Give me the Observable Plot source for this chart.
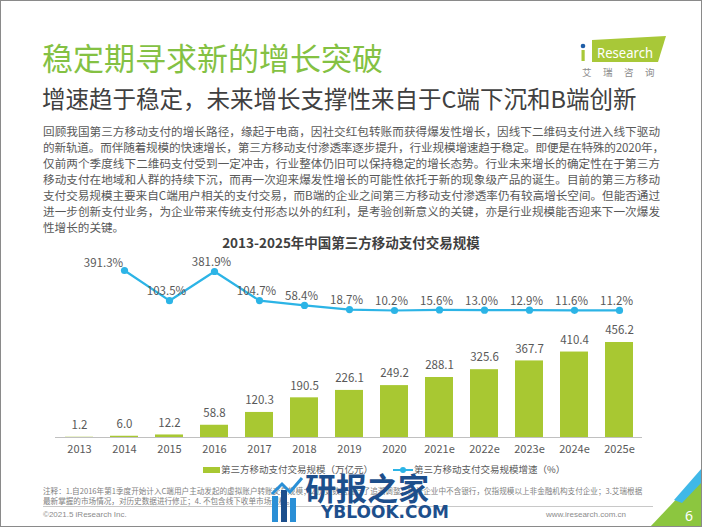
<!DOCTYPE html>
<html>
<head>
<meta charset="utf-8">
<script src="https://cdn.jsdelivr.net/npm/d3@7"></script>
<script src="https://cdn.jsdelivr.net/npm/@observablehq/plot@0.6"></script>
<style>
  html, body { margin: 0; padding: 0; background: #fff; }
  #slide { position: relative; width: 702px; height: 527px; overflow: hidden; background: #fff;
           font-family: "Noto Sans CJK SC", "Noto Sans", sans-serif; }
  .abs { position: absolute; white-space: nowrap; line-height: 1; }
  #frame { position: absolute; left: 0; top: 0; width: 700px; height: 525px; border: 1px solid #8a8a8a; pointer-events: none; }
  .body-line { position: absolute; left: 43px; font-size: 11.6px; color: #595959; line-height: 1; white-space: nowrap; }
  .plot { position: absolute; left: 0; top: 0; }
  .legend-text { position: absolute; font-size: 9.5px; color: #595959; line-height: 1; white-space: nowrap; }
</style>
</head>
<body>
<div id="slide">
  <div class="abs" style="left:42px; top:41px; font-size:31px; color:#84c143;">稳定期寻求新的增长突破</div>
  <div class="abs" style="left:42px; top:87px; font-size:23.5px; color:#404040;">增速趋于稳定，未来增长支撑性来自于C端下沉和B端创新</div>

  <svg class="abs" style="left:575px; top:32px;" width="100" height="50">
    <polygon points="17,8 91,4 83,30 17,30" fill="#a8c838"/>
    <circle cx="8" cy="14" r="2.3" fill="#1f5ea8"/>
    <rect x="6.5" y="18" width="3.2" height="11" fill="#a8c838"/>
    <text x="22" y="26" font-size="15" fill="#ffffff" font-family="'Noto Sans', sans-serif" textLength="56" lengthAdjust="spacingAndGlyphs">Research</text>
  </svg>
  <div class="abs" style="left:582px; top:68px; font-size:9.5px; color:#8c8c8c; letter-spacing:11.5px;">艾瑞咨询</div>

  <div id="body"></div>

  <div class="abs" style="left:0; width:702px; top:236px; text-align:center; font-size:13.5px; font-weight:bold; color:#404040;">2013-2025年中国第三方移动支付交易规模</div>

  <div id="bars" class="plot"></div>
  <div id="line" class="plot"></div>

  <div style="position:absolute; left:203px; top:467px; width:17px; height:6px; background:#a8c832;"></div>
  <div class="legend-text" style="left:221px; top:465px;">第三方移动支付交易规模（万亿元）</div>
  <svg style="position:absolute; left:392px; top:464px;" width="22" height="12">
    <line x1="1" y1="6" x2="21" y2="6" stroke="#2cb4e6" stroke-width="2"/>
    <circle cx="11" cy="6" r="3" fill="#2cb4e6"/>
  </svg>
  <div class="legend-text" style="left:414px; top:465px;">第三方移动支付交易规模增速（%）</div>

  <div class="abs" style="left:43px; top:487px; font-size:7.6px; color:#7f7f7f;">注释：1.自2016年第1季度开始计入C端用户主动发起的虚拟账户转账交易规模；2.历史数据进行了追溯调整，统计企业中不含银行，仅指规模以上非金融机构支付企业；3.艾瑞根据</div>
  <div class="abs" style="left:43px; top:497px; font-size:7.6px; color:#7f7f7f;">最新掌握的市场情况，对历史数据进行修正；4. 不包含线下收单市场规模。</div>
  <div style="position:absolute; left:43px; top:506px; width:610px; height:1px; background:#c8c8c8;"></div>
  <div class="abs" style="left:43px; top:511px; font-size:8px; color:#8c8c8c; font-family:'Liberation Sans', sans-serif;">©2021.5 iResearch Inc.</div>
  <div class="abs" style="left:540px; width:86px; text-align:right; top:511px; font-size:8px; color:#8c8c8c; font-family:'Liberation Sans', sans-serif;">www.iresearch.com.cn</div>

  <svg style="position:absolute; left:640px; top:460px;" width="62" height="67">
    <polygon points="10,67 62,67 62,12" fill="#8cc63f"/>
    <polygon points="34,40 62,8 62,22 42,43" fill="#3fb8e8"/>
    <text x="49" y="61" font-size="14" fill="#ffffff" font-family="'Noto Sans', sans-serif" text-anchor="middle">6</text>
  </svg>

  <!-- watermark -->
  <svg style="position:absolute; left:270px; top:476px;" width="40" height="48">
    <rect x="2" y="20" width="6" height="26" fill="#2a8fd6"/>
    <rect x="11" y="14" width="6" height="32" fill="#1d4f8c"/>
    <rect x="20" y="22" width="6" height="24" fill="#2a8fd6"/>
    <polyline points="2,18 12,8 20,16 32,2" fill="none" stroke="#2a8fd6" stroke-width="3"/>
  </svg>
  <div class="abs" style="left:305px; top:476px; font-size:31px; line-height:22px; font-weight:bold; color:#1d4f8c;">研报之家</div>
  <div class="abs" style="left:321px; top:505px; font-size:17px; line-height:14px; font-weight:bold; color:#1d4f8c; font-family:'DejaVu Sans', sans-serif;">YBLOOK.COM</div>

  <div id="frame"></div>
</div>

<script>
// ---- data ----
const years = ["2013","2014","2015","2016","2017","2018","2019","2020","2021e","2022e","2023e","2024e","2025e"];
const scaleValues = [1.2, 6.0, 12.2, 58.8, 120.3, 190.5, 226.1, 249.2, 288.1, 325.6, 367.7, 410.4, 456.2];
const growthYears = ["2014","2015","2016","2017","2018","2019","2020","2021e","2022e","2023e","2024e","2025e"];
const growthValues = [391.3, 103.5, 381.9, 104.7, 58.4, 18.7, 10.2, 15.6, 13.0, 12.9, 11.6, 11.2];
const bodyLines = [
  "回顾我国第三方移动支付的增长路径，缘起于电商，因社交红包转账而获得爆发性增长，因线下二维码支付进入线下驱动",
  "的新轨道。而伴随着规模的快速增长，第三方移动支付渗透率逐步提升，行业规模增速趋于稳定。即便是在特殊的2020年，",
  "仅前两个季度线下二维码支付受到一定冲击，行业整体仍旧可以保持稳定的增长态势。行业未来增长的确定性在于第三方",
  "移动支付在地域和人群的持续下沉，而再一次迎来爆发性增长的可能性依托于新的现象级产品的诞生。目前的第三方移动",
  "支付交易规模主要来自C端用户相关的支付交易，而B端的企业之间第三方移动支付渗透率仍有较高增长空间。但能否通过",
  "进一步创新支付业务，为企业带来传统支付形态以外的红利，是考验创新意义的关键，亦是行业规模能否迎来下一次爆发",
  "性增长的关键。"
];
const bodyWidths = [617, 621, 617, 617, 617, 617, 0];

// ---- body text (each line fitted to its width) ----
const bodyEl = document.getElementById("body");
bodyLines.forEach((t, i) => {
  const d = document.createElement("div");
  d.className = "body-line";
  d.style.top = (126 + i * 16) + "px";
  d.textContent = t;
  bodyEl.appendChild(d);
  const target = bodyWidths[i];
  if (target > 0) {
    const w = d.getBoundingClientRect().width;
    const n = [...t].length;
    d.style.letterSpacing = ((target - w) / (n - 1)) + "px";
  }
});

const barData = years.map((y, i) => ({year: y, value: scaleValues[i]}));
const lineData = growthYears.map((y, i) => ({year: y, value: growthValues[i]}));

const font = "'Noto Sans CJK SC', 'Noto Sans', sans-serif";
const xOpts = {domain: years, paddingInner: 0.38, paddingOuter: 0.19};

const barsPlot = Plot.plot({
  width: 702, height: 527,
  marginTop: 342, marginBottom: 90, marginLeft: 55, marginRight: 60,
  style: {fontFamily: font, fontSize: "11px", color: "#595959", background: "transparent", overflow: "visible"},
  x: {...xOpts, label: null, tickSize: 0, tickPadding: 8},
  y: {domain: [0, 456.2], axis: null},
  marks: [
    Plot.barY(barData, {x: "year", y: "value", fill: "#a8c832"}),
    Plot.ruleY([0], {stroke: "#c0c0c0", strokeWidth: 1}),
    Plot.text(barData, {x: "year", y: "value", text: d => d.value.toFixed(1), dy: -12, fontSize: 11.5, fill: "#595959"})
  ]
});
document.getElementById("bars").appendChild(barsPlot);

const linePlot = Plot.plot({
  width: 702, height: 527,
  marginTop: 270, marginBottom: 217, marginLeft: 55, marginRight: 60,
  style: {fontFamily: font, fontSize: "11px", color: "#595959", background: "transparent", overflow: "visible"},
  x: {...xOpts, axis: null},
  y: {domain: [10.2, 391.3], axis: null},
  marks: [
    Plot.lineY(lineData, {x: "year", y: "value", stroke: "#2cb4e6", strokeWidth: 2.2}),
    Plot.dot(lineData, {x: "year", y: "value", r: 3.6, fill: "#2cb4e6"}),
    Plot.text(lineData.slice(0, 1), {x: "year", y: "value", text: d => d.value.toFixed(1) + "%", dx: -21, dy: -7, fontSize: 11.5, fill: "#595959"}),
    Plot.text(lineData.slice(1), {x: "year", y: "value", text: d => d.value.toFixed(1) + "%", dx: -3, dy: -9, fontSize: 11.5, fill: "#595959"})
  ]
});
document.getElementById("line").appendChild(linePlot);
</script>
</body>
</html>
